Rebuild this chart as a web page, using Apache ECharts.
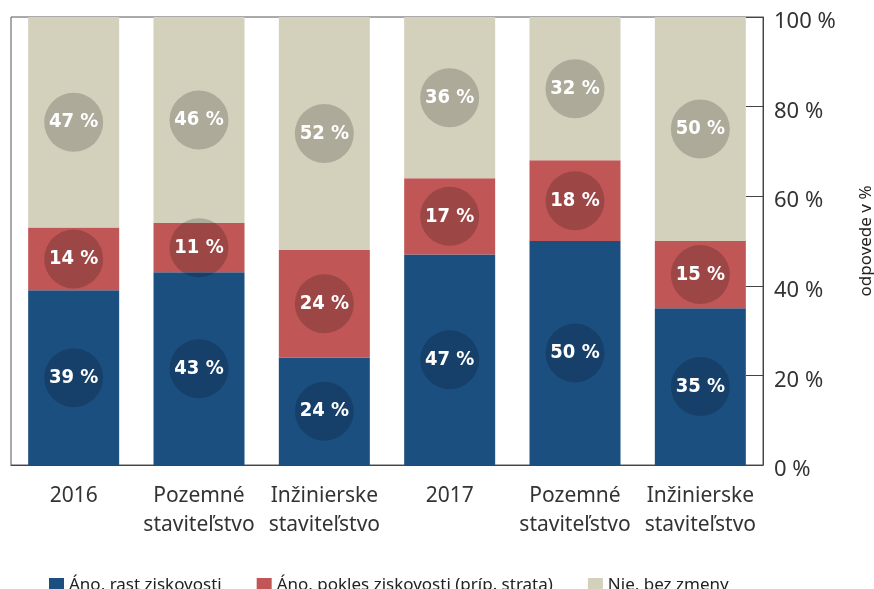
<!DOCTYPE html>
<html><head><meta charset="utf-8">
<script src="https://cdn.jsdelivr.net/npm/echarts@6/dist/echarts.min.js"></script>
<style>html,body{margin:0;padding:0;background:#fff}#c{width:874px;height:589px}</style>
</head><body><div id="c"></div>
<script>
const categories = ['2016', 'Pozemné\nstaviteľstvo', 'Inžinierske\nstaviteľstvo', '2017', 'Pozemné\nstaviteľstvo', 'Inžinierske\nstaviteľstvo'];
const seriesNames = ['Áno, rast ziskovosti', 'Áno, pokles ziskovosti (príp. strata)', 'Nie, bez zmeny'];
const rast = [39, 43, 24, 47, 50, 35];
const pokles = [14, 11, 24, 17, 18, 15];
const bezZmeny = [47, 46, 52, 36, 32, 50];
const yTicks = [0, 20, 40, 60, 80, 100];
const colors = ['#1b4f80', '#c05656', '#d3d0bc'];

const chart = echarts.init(document.getElementById('c'));
const labelFont = '"DejaVu Sans Condensed", "Liberation Sans Narrow", "Noto Sans", sans-serif';
const mk = (name, data, color) => ({
  name, type: 'bar', stack: 'a', data, barWidth: 91,
  itemStyle: { color },
  label: {
    show: true, position: 'inside', formatter: '{c} %',
    width: 59, height: 59, lineHeight: 59, align: 'center', verticalAlign: 'middle',
    borderRadius: 30, backgroundColor: 'rgba(0,0,0,0.18)',
    color: '#fff', fontWeight: 'bold', fontSize: 20, fontFamily: labelFont
  }
});
chart.setOption({
  animation: false,
  textStyle: { fontFamily: '"Noto Sans", sans-serif' },
  grid: { left: 11, right: 111, top: 17, bottom: 124, show: true, borderColor: '#555', borderWidth: 1, outerBoundsMode: 'none', containLabel: false },
  legend: {
    data: seriesNames, left: 44, top: 572, itemWidth: 15, itemHeight: 15, itemGap: 35,
    icon: 'rect', textStyle: { fontSize: 17, color: '#222' }
  },
  xAxis: {
    type: 'category', data: categories,
    axisLine: { lineStyle: { color: '#444' } },
    axisTick: { inside: true, length: 10, lineStyle: { color: '#444' } },
    axisLabel: { interval: 0, fontSize: 21, color: '#333', lineHeight: 29, margin: 17 }
  },
  yAxis: {
    type: 'value', position: 'right', min: 0, max: 100, interval: 20,
    name: 'odpovede v %', nameLocation: 'middle', nameRotate: 90, nameGap: 95,
    nameTextStyle: { fontSize: 17, color: '#222' },
    axisLine: { show: true, lineStyle: { color: '#444' } },
    axisTick: { show: true, inside: true, length: 17, lineStyle: { color: '#444' } },
    splitLine: { show: false },
    axisLabel: {
      margin: 11,
      formatter: v => yTicks.includes(v) ? '{t|' + v + ' %}' : '',
      rich: { t: { fontSize: 22, color: '#333', padding: [10, 0, 0, 0] } }
    }
  },
  series: [mk(seriesNames[0], rast, colors[0]), mk(seriesNames[1], pokles, colors[1]), mk(seriesNames[2], bezZmeny, colors[2])]
});
</script></body></html>
